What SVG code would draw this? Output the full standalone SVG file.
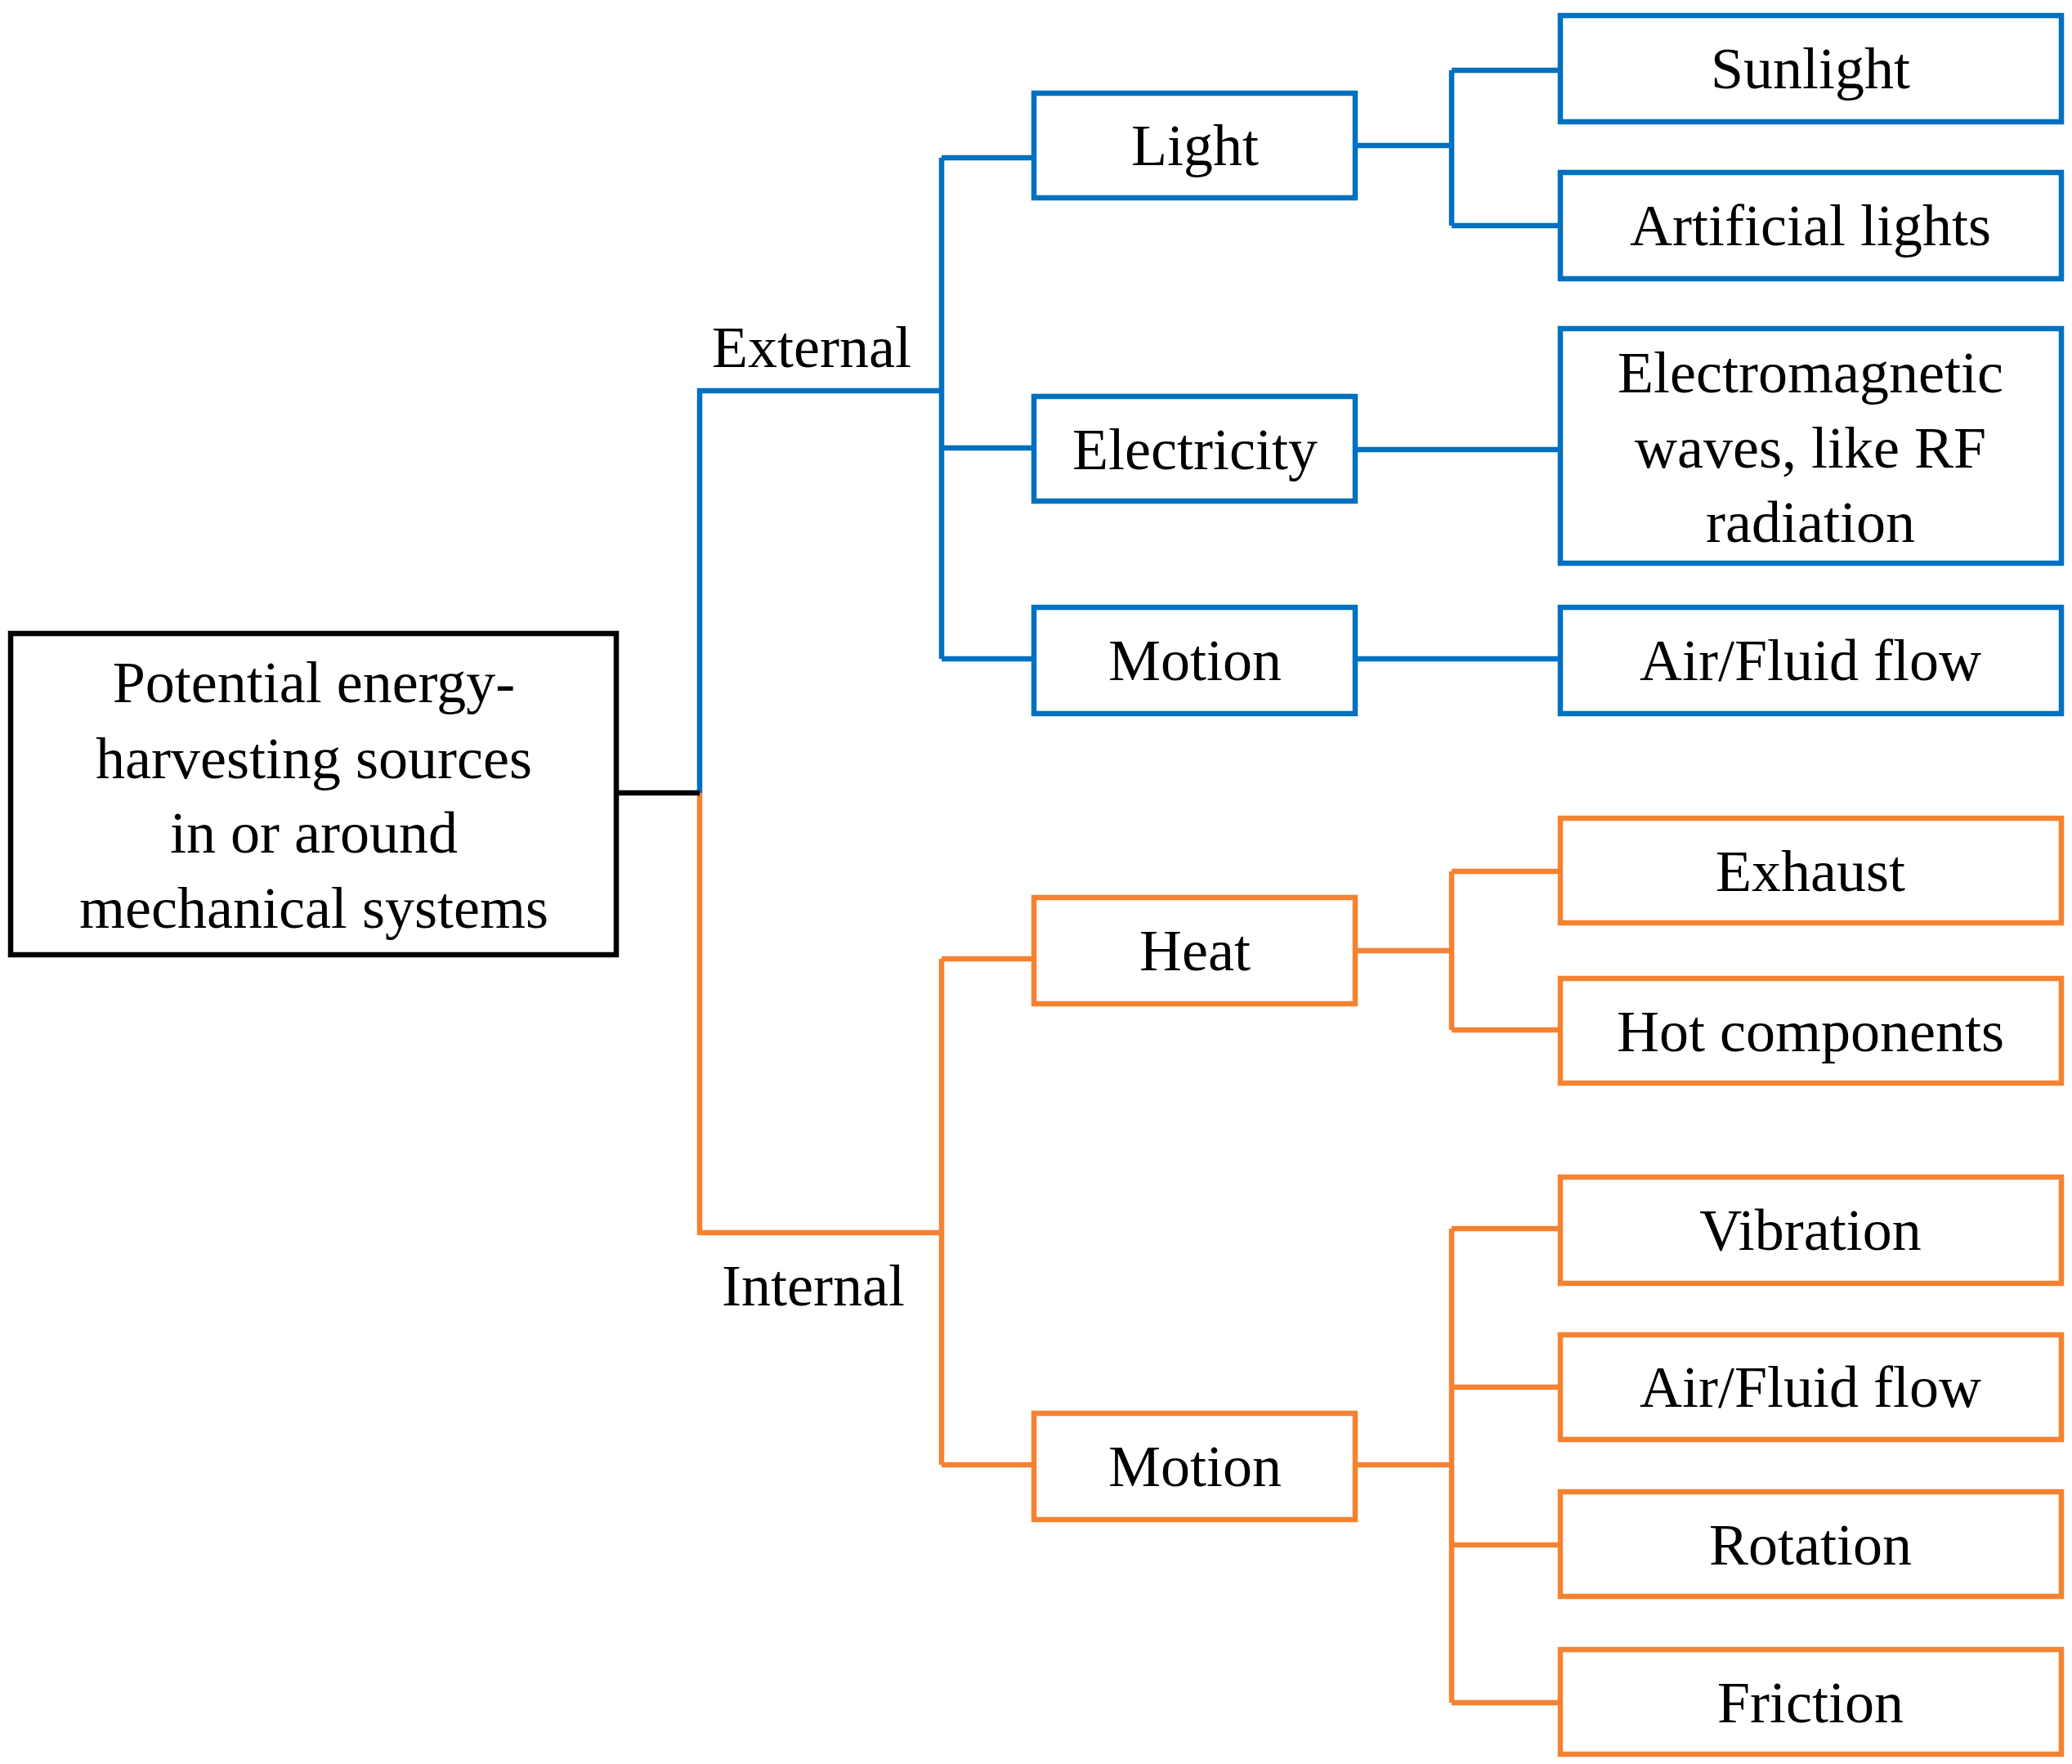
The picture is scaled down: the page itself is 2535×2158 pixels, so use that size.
<svg xmlns="http://www.w3.org/2000/svg" width="2535" height="2158" viewBox="0 0 2535 2158">
<style>
text{font-family:"Liberation Serif","DejaVu Serif",serif;font-size:72px;text-anchor:middle;dominant-baseline:central;fill:#000}
.b{fill:#fff;stroke:#0070C0;stroke-width:6.5}
.o{fill:#fff;stroke:#F58231;stroke-width:6.5}
.k{fill:#fff;stroke:#000;stroke-width:6.5}
.lb{fill:none;stroke:#0070C0;stroke-width:6.5}
.lo{fill:none;stroke:#F58231;stroke-width:6.5}
</style>
<rect width="2535" height="2158" fill="#fff"/>
<g id="connectors">
<path class="lb" d="M856 970V478H1152M1152 193V806M1152 193H1265M1152 548H1265M1152 806H1265M1658 178H1776M1776 86V276M1776 86H1909M1776 276H1909M1658 550H1909M1658 806H1909"/>
<path class="lo" d="M856 970V1508H1152M1152 1173V1792M1152 1173H1265M1152 1792H1265M1658 1163H1776M1776 1066V1260M1776 1066H1909M1776 1260H1909M1658 1792H1776M1776 1503V2083M1776 1503H1909M1776 1697H1909M1776 1890H1909M1776 2083H1909"/>
<path d="M754 970H856" stroke="#000" stroke-width="6.5"/>
</g>
<g id="root"><rect class="k" x="13" y="775" width="741" height="393"/>
<text x="384" y="835">Potential energy-</text><text x="384" y="928">harvesting sources</text><text x="384" y="1019">in or around</text><text x="384" y="1111">mechanical systems</text></g>
<g id="external"><text x="993" y="425">External</text></g>
<g id="internal"><text x="995" y="1573">Internal</text></g>
<g id="light"><rect class="b" x="1265" y="114" width="393" height="128"/><text x="1462" y="178">Light</text></g>
<g id="electricity"><rect class="b" x="1265" y="485" width="393" height="128"/><text x="1462" y="550">Electricity</text></g>
<g id="motion-ext"><rect class="b" x="1265" y="743" width="393" height="130"/><text x="1462" y="808">Motion</text></g>
<g id="sunlight"><rect class="b" x="1909" y="19" width="613" height="130"/><text x="2215" y="84">Sunlight</text></g>
<g id="artificial"><rect class="b" x="1909" y="211" width="613" height="130"/><text x="2215" y="276">Artificial lights</text></g>
<g id="em"><rect class="b" x="1909" y="402" width="613" height="287"/><text x="2215" y="456">Electromagnetic</text><text x="2215" y="548">waves, like RF</text><text x="2215" y="639">radiation</text></g>
<g id="airflow-ext"><rect class="b" x="1909" y="743" width="613" height="130"/><text x="2215" y="808">Air/Fluid flow</text></g>
<g id="heat"><rect class="o" x="1265" y="1098" width="393" height="130"/><text x="1462" y="1163">Heat</text></g>
<g id="motion-int"><rect class="o" x="1265" y="1729" width="393" height="130"/><text x="1462" y="1794">Motion</text></g>
<g id="exhaust"><rect class="o" x="1909" y="1001" width="613" height="128"/><text x="2215" y="1066">Exhaust</text></g>
<g id="hot"><rect class="o" x="1909" y="1197" width="613" height="128"/><text x="2215" y="1262">Hot components</text></g>
<g id="vibration"><rect class="o" x="1909" y="1440" width="613" height="130"/><text x="2215" y="1505">Vibration</text></g>
<g id="airflow-int"><rect class="o" x="1909" y="1633" width="613" height="128"/><text x="2215" y="1697">Air/Fluid flow</text></g>
<g id="rotation"><rect class="o" x="1909" y="1825" width="613" height="128"/><text x="2215" y="1890">Rotation</text></g>
<g id="friction"><rect class="o" x="1909" y="2018" width="613" height="128"/><text x="2215" y="2083">Friction</text></g>
</svg>
